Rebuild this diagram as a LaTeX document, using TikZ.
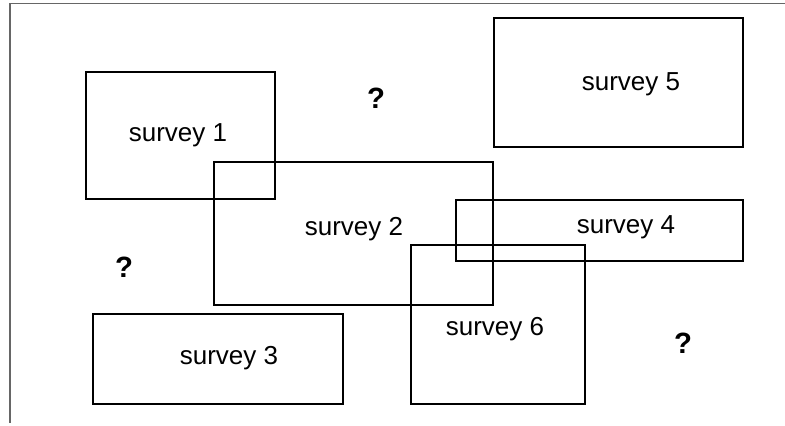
\documentclass[tikz,border=0pt]{standalone}
\usepackage{fontspec}
\setmainfont{Liberation Sans}
\usepackage{tikz}
\tikzset{
  area/.style={draw,line width=0.9pt},
  frame/.style={draw=black!60,line width=0.9pt},
  label node/.style={font=\fontsize{19.5}{22}\selectfont,anchor=base,inner sep=0pt},
  unknown/.style={font=\fontsize{22}{24}\selectfont\bfseries,anchor=base,inner sep=0pt}
}

\begin{document}
\begin{tikzpicture}[x=0.75pt,y=-0.75pt]
        \useasboundingbox (0,0) rectangle (785,425);
        % outer frame, only top and left sides
        \draw [frame] (785,3.5) -- (10,3.5) -- (10,423);
        % survey areas
        \draw [area] (86,72) rectangle (275,199);
        \draw [area] (214,162) rectangle (493,305);
        \draw [area] (93,314) rectangle (343,404);
        \draw [area] (456,200) rectangle (743,261);
        \draw [area] (494,18) rectangle (743,147);
        \draw [area] (411,245) rectangle (585,404);
        % names of the areas
        \node [label node] (s1) at (178,141) {survey 1};
        \node [label node] (s2) at (354,235) {survey 2};
        \node [label node] (s3) at (229,364) {survey 3};
        \node [label node] (s4) at (626,233) {survey 4};
        \node [label node] (s5) at (631,90) {survey 5};
        \node [label node] (s6) at (495,335) {survey 6};
        % gaps
        \node [unknown] (q1) at (376,108) {?};
        \node [unknown] (q2) at (124,277) {?};
        \node [unknown] (q3) at (683,353) {?};
\end{tikzpicture}
\end{document}
